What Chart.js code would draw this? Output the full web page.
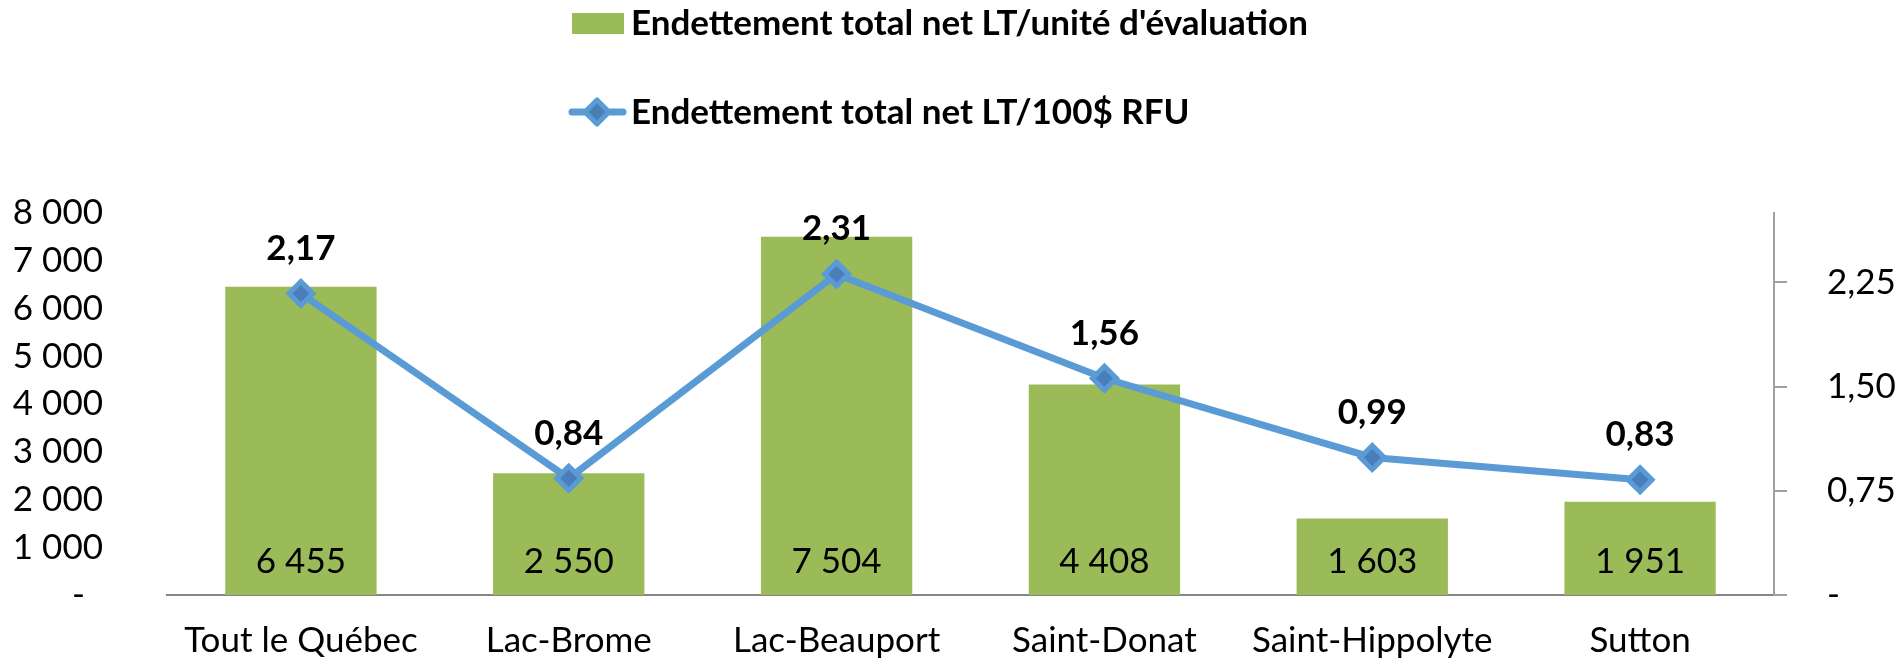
<!DOCTYPE html>
<html>
<head>
<meta charset="utf-8">
<script src="https://cdn.jsdelivr.net/npm/chart.js@4.4.1/dist/chart.umd.min.js"></script>
<style>
  body { margin: 0; background: #fff; overflow: hidden; }
</style>
</head>
<body>
<canvas id="myChart" width="1903" height="663"></canvas>
<script>
const categories = ['Tout le Québec', 'Lac-Brome', 'Lac-Beauport', 'Saint-Donat', 'Saint-Hippolyte', 'Sutton'];
const parUnite = [6455, 2550, 7504, 4408, 1603, 1951];
const par100RFU = [2.17, 0.84, 2.31, 1.56, 0.99, 0.83];
const rightTicks = [0, 0.75, 1.5, 2.25];

const barLabel = 'Endettement total net LT/unité d\'évaluation';
const lineLabel = 'Endettement total net LT/100$ RFU';

const green = '#9BBB59';
const blue = '#5B9BD5';
const blueDark = '#4A7EBB';
const font = 'Lato';

function milliers(v) {
    return String(Math.round(v)).replace(/\B(?=(\d{3})+(?!\d))/g, ' ');
}
function virgule(v) {
    return v.toFixed(2).replace('.', ',');
}

// étiquettes de valeurs + légende dessinées à la main
const labelsPlugin = {
    id: 'labelsPlugin',
    afterDatasetsDraw(chart) {
        const ctx = chart.ctx;
        const base = chart.scales.y.getPixelForValue(0);
        ctx.save();
        ctx.fillStyle = '#000';
        ctx.textAlign = 'center';
        ctx.textBaseline = 'middle';

        const bars = chart.getDatasetMeta(0);
        ctx.font = '35px ' + font;
        bars.data.forEach((el, i) => {
            ctx.fillText(milliers(parUnite[i]), el.x, base - 33);
        });

        const pts = chart.getDatasetMeta(1);
        ctx.font = 'bold 35px ' + font;
        pts.data.forEach((el, i) => {
            ctx.fillText(virgule(par100RFU[i]), el.x, el.y - 45);
        });

        // légende
        ctx.textAlign = 'left';
        ctx.font = 'bold 35px ' + font;
        ctx.fillStyle = green;
        ctx.fillRect(572, 13, 52, 21);
        ctx.fillStyle = '#000';
        ctx.fillText(barLabel, 631, 24);

        ctx.strokeStyle = blue;
        ctx.lineWidth = 7;
        ctx.lineCap = 'round';
        ctx.beginPath();
        ctx.moveTo(572, 112);
        ctx.lineTo(623, 112);
        ctx.stroke();
        ctx.fillStyle = blueDark;
        ctx.lineWidth = 5;
        ctx.lineJoin = 'round';
        ctx.beginPath();
        ctx.moveTo(597, 100);
        ctx.lineTo(609, 112);
        ctx.lineTo(597, 124);
        ctx.lineTo(585, 112);
        ctx.closePath();
        ctx.fill();
        ctx.stroke();
        ctx.fillStyle = '#000';
        ctx.fillText(lineLabel, 631, 113);
        ctx.restore();
    }
};

const data = {
    labels: categories,
    datasets: [
        {
            type: 'bar',
            label: barLabel,
            data: parUnite,
            backgroundColor: green,
            yAxisID: 'y',
            barPercentage: 0.565,
            categoryPercentage: 1,
            order: 1
        },
        {
            type: 'line',
            label: lineLabel,
            data: par100RFU,
            borderColor: blue,
            borderWidth: 7,
            pointStyle: 'rectRot',
            pointRadius: 12,
            pointBorderWidth: 5,
            pointBackgroundColor: blueDark,
            pointBorderColor: blue,
            yAxisID: 'y1',
            order: 0
        }
    ]
};

const config = {
    type: 'bar',
    data: data,
    options: {
        responsive: false,
        animation: false,
        layout: { padding: { top: 213, left: 0, right: 0, bottom: 0 } },
        plugins: {
            legend: { display: false },
            tooltip: { enabled: false }
        },
        scales: {
            x: {
                grid: { display: false, drawTicks: false },
                border: { display: true, color: '#868686', width: 2 },
                ticks: { color: '#000', padding: 25, font: { family: font, size: 35 } },
                afterFit(axis) { axis.height = 68; }
            },
            y: {
                position: 'left',
                min: 0,
                max: 8000,
                grid: { display: false, drawTicks: false },
                border: { display: false },
                ticks: {
                    stepSize: 1000,
                    color: '#000',
                    padding: 64,
                    font: { family: font, size: 35 },
                    callback: (v) => v === 0 ? '-  ' : milliers(v)
                },
                afterFit(axis) {
                    axis.width = 167;
                    axis.paddingTop = 0;
                    axis.paddingBottom = 0;
                }
            },
            y1: {
                position: 'right',
                min: 0,
                max: 2.75,
                grid: { display: true, drawOnChartArea: false, drawTicks: true, tickLength: 13, color: '#a0a0a0', lineWidth: 2 },
                border: { display: true, color: '#a0a0a0', width: 2 },
                afterBuildTicks(axis) { axis.ticks = rightTicks.map(v => ({ value: v })); },
                ticks: {
                    color: '#000',
                    padding: 40,
                    font: { family: font, size: 35 },
                    callback: (v) => v === 0 ? '-' : virgule(v)
                },
                afterFit(axis) {
                    axis.width = 129;
                    axis.paddingTop = 0;
                    axis.paddingBottom = 0;
                }
            }
        }
    },
    plugins: [labelsPlugin]
};

const chart = new Chart(document.getElementById('myChart'), config);
</script>
</body>
</html>
